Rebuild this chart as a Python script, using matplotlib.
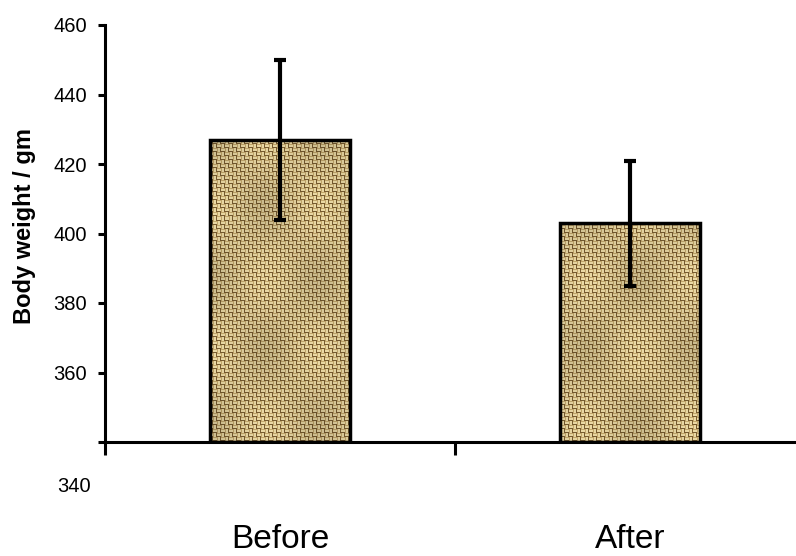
import matplotlib
matplotlib.use("Agg")
import matplotlib.pyplot as plt
import numpy as np

plt.rcParams['font.family'] = ['Liberation Sans', 'DejaVu Sans']

groups = ["Before", "After"]
weight_mean = [427, 403]
weight_err = [23, 18]
y_ticks = [360, 380, 400, 420, 440, 460]
y_min, y_max = 340, 460

fig = plt.figure(figsize=(7.96, 5.56), dpi=100)
ax = fig.add_axes([105/796, 114/556, 700/796, 417/556])

x = np.arange(len(groups))

# burlap-like weave texture (styling only), one pixel per screen pixel
rows, cols = 417, 700
ii, jj = np.mgrid[0:rows, 0:cols]
blk = ((ii // 4) + (jj // 4)) % 2
thread = np.where(blk == 0, ii % 4, jj % 4)
light = np.array([236, 218, 165]) / 255
dark = np.array([120, 92, 48]) / 255
mid = np.array([196, 168, 108]) / 255
tex = np.where((thread == 3)[..., None], dark,
               np.where((thread == 0)[..., None], mid, light))
mottle = 0.93 + 0.07 * np.sin(ii / 23.0) * np.cos(jj / 17.0)
tex = np.clip(tex * mottle[..., None], 0, 1)

bars = ax.bar(x, np.array(weight_mean) - y_min, 0.4, bottom=y_min,
              facecolor='none', edgecolor='black', linewidth=2.5, zorder=3)
for b in bars:
    im = ax.imshow(tex, extent=(-0.5, 1.5, y_min, y_max), origin='upper',
                   interpolation='nearest', aspect='auto', zorder=2)
    im.set_clip_path(b)

ax.errorbar(x, weight_mean, yerr=weight_err, fmt='none', ecolor='black',
            elinewidth=3, capsize=4.3, capthick=3, zorder=4)

ax.set_xlim(-0.5, 1.5)
ax.set_ylim(y_min, y_max)

for s in ['top', 'right']:
    ax.spines[s].set_visible(False)
for s in ['left', 'bottom']:
    ax.spines[s].set_linewidth(2.2)

# y axis: 340 tick kept but its label sits lower, as in the original
ax.set_yticks([y_min] + y_ticks)
ax.set_yticklabels([''] + [str(v) for v in y_ticks])
ax.tick_params(axis='y', direction='out', length=5, width=2.2, pad=8, labelsize=14.5)
ax.annotate(str(y_min), xy=(0, y_min), xycoords=('axes fraction', 'data'),
            xytext=(-10.5, -32), textcoords='offset points',
            ha='right', va='center', fontsize=14.5)

# x axis: labels at categories, tick marks at category boundaries
ax.set_xticks(x)
ax.set_xticklabels(groups)
ax.tick_params(axis='x', which='major', length=0, pad=59, labelsize=24)
ax.set_xticks(np.arange(len(groups) + 1) - 0.5, minor=True)
ax.tick_params(axis='x', which='minor', direction='out', length=9.5, width=2.2)

ax.set_ylabel('Body weight / gm', fontsize=17, fontweight='bold')
ax.yaxis.set_label_coords(-0.098, 0.517)

fig.savefig('out.png', dpi=100)
